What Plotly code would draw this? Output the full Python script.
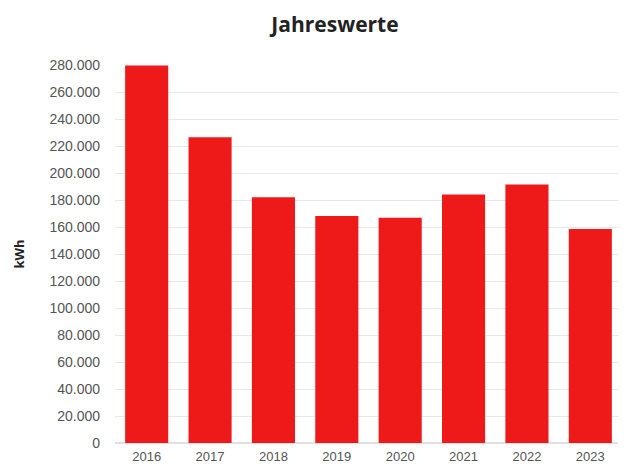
import plotly.graph_objects as go

years = ["2016", "2017", "2018", "2019", "2020", "2021", "2022", "2023"]
kwh = [279600, 226500, 182000, 168200, 166900, 184000, 191400, 158500]
tick_vals = list(range(0, 280001, 20000))

fig = go.Figure(go.Bar(
    x=years, y=kwh,
    marker=dict(color="#EE1A1A", line=dict(width=0)),
))

# page body has an 8px default margin; figure sized to fill the remaining window
fig.update_layout(
    width=618, height=459,
    paper_bgcolor="white", plot_bgcolor="white",
    margin=dict(l=107, r=4, t=57, b=24, autoexpand=False),
    separators=",.",
    bargap=0.32,
    showlegend=False,
    title=dict(text="<b>Jahreswerte</b>", x=327 / 618, xanchor="center", y=1 - 17 / 459, yanchor="middle",
               font=dict(family="Open Sans", size=21, color="#222222")),
    font=dict(family="Liberation Sans", size=14, color="#555555"),
)
fig.update_xaxes(showgrid=False, showline=False, ticks="", automargin=False,
                 tickfont=dict(size=13, color="#555555"), ticklabelstandoff=4)
fig.update_yaxes(range=[0, 280000], tickvals=tick_vals, tickformat=",d", automargin=False,
                 showgrid=True, gridcolor="#E8E8E8", gridwidth=1,
                 zeroline=True, zerolinecolor="#E0E0E0",
                 tickfont=dict(size=14, color="#555555"), ticklabelstandoff=14,
                 title=dict(text="<b>kWh</b>", font=dict(family="Open Sans", size=13, color="#222222"), standoff=21))

fig.write_html("out.html")
